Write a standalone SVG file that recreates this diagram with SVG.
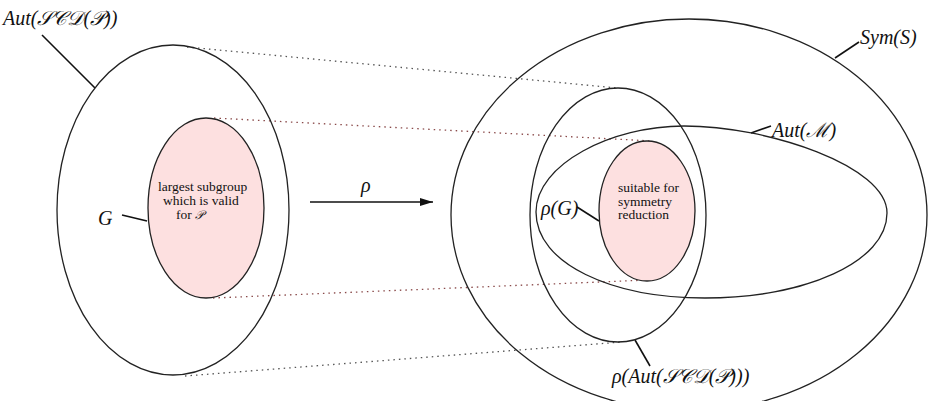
<svg xmlns="http://www.w3.org/2000/svg" width="929" height="401" viewBox="0 0 929 401">
<style>
.e{fill:none;stroke:#222;stroke-width:1.3}
.p{fill:#fde0e0;stroke:#222;stroke-width:1.3}
.l{stroke:#111;stroke-width:1.6;fill:none}
.d{stroke:#555;stroke-width:1.3;stroke-dasharray:1.5 4;fill:none}
.dp{stroke:#8a4a4a;stroke-width:1.3;stroke-dasharray:1.5 4;fill:none}
.m{font-family:"Liberation Serif","DejaVu Serif",serif;font-style:italic;font-size:20px;fill:#111}
.t{font-family:"Liberation Serif","DejaVu Serif",serif;font-size:13.5px;fill:#111}
</style>
<defs>
<marker id="ah" markerWidth="13" markerHeight="8" refX="13" refY="4" orient="auto" markerUnits="userSpaceOnUse">
<path d="M0,0 L13,4 L0,8 Z" fill="#111"/>
</marker>
</defs>
<g id="connectors">
<line class="d" x1="187" y1="47" x2="617" y2="88"/>
<line class="dp" x1="214" y1="118" x2="652" y2="141"/>
<line class="dp" x1="213" y1="298" x2="648" y2="280"/>
<line class="d" x1="185" y1="376" x2="622" y2="342"/>
<line class="l" x1="310" y1="202" x2="433" y2="202" marker-end="url(#ah)"/>
<line class="l" x1="42" y1="35" x2="95" y2="88"/>
<line class="l" x1="122" y1="215" x2="147" y2="221"/>
<line class="l" x1="577" y1="207" x2="599" y2="221"/>
<line class="l" x1="859" y1="42" x2="835" y2="58"/>
<line class="l" x1="771" y1="126" x2="751" y2="133"/>
<line class="l" x1="635" y1="340" x2="650" y2="366"/>
</g>
<g id="aut-scd">
<ellipse class="e" cx="173" cy="210" rx="116" ry="165"/>
<text class="m" x="3" y="25">Aut(𝒮𝒞𝒟(𝒫))</text>
</g>
<g id="G">
<ellipse class="p" cx="206" cy="208" rx="58" ry="90"/>
<text class="t" x="158" y="191">largest subgroup</text>
<text class="t" x="163" y="205">which is valid</text>
<text class="t" x="176" y="219">for <tspan font-style="italic" font-size="12px">𝒫</tspan></text>
<text class="m" x="98" y="225">G</text>
</g>
<g id="rho">
<text class="m" x="361" y="192">ρ</text>
</g>
<g id="sym-s">
<ellipse class="e" cx="689" cy="215" rx="238" ry="196"/>
<text class="m" x="860" y="44">Sym(S)</text>
</g>
<g id="rho-aut">
<ellipse class="e" cx="618" cy="215" rx="88" ry="127"/>
<text class="m" x="612" y="383">ρ(Aut(𝒮𝒞𝒟(𝒫)))</text>
</g>
<g id="aut-m">
<path class="e" d="M536,212 C536,164 612,126 684,126 C768,126 887,166 887,213 C887,262 805,298 705,298 C612,298 536,264 536,212 Z"/>
<text class="m" x="772" y="137">Aut(ℳ)</text>
</g>
<g id="rho-g">
<ellipse class="p" cx="647" cy="211" rx="48" ry="70"/>
<text class="t" x="618" y="192">suitable for</text>
<text class="t" x="618" y="205.5">symmetry</text>
<text class="t" x="618" y="219">reduction</text>
<text class="m" x="541" y="215">ρ(G)</text>
</g>
</svg>
